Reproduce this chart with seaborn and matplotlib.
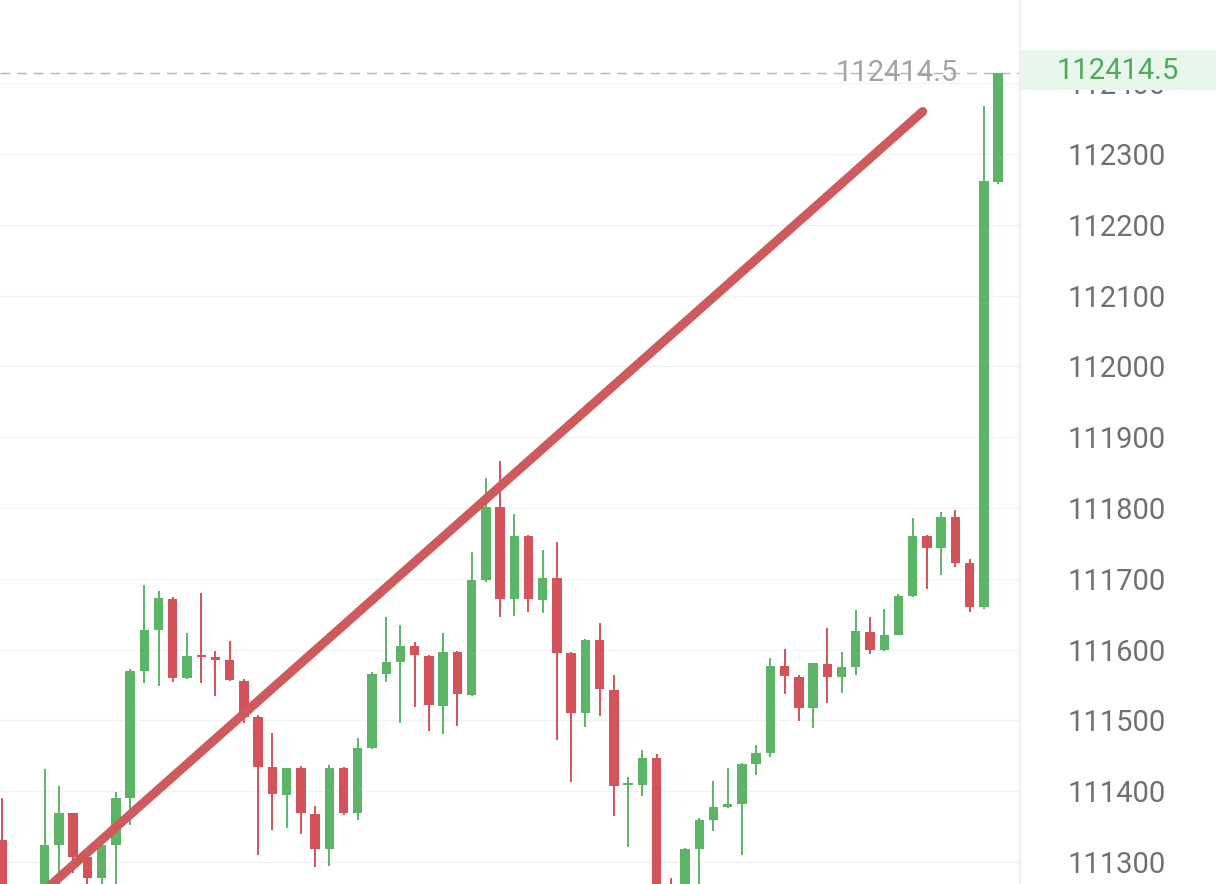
import pandas as pd
import matplotlib.pyplot as plt
from matplotlib.patches import Rectangle
import seaborn as sns

# OHLC values (one candle per slot, left to right)
opens = [111331, 111250, 111228, 111245, 111324, 111369, 111307, 111277, 111324, 111390,
         111570, 111628, 111672, 111560, 111591, 111590, 111585, 111556, 111505, 111434,
         111395, 111433, 111368, 111318, 111433, 111369, 111461, 111566, 111582, 111605,
         111591, 111521, 111597, 111536, 111698, 111801, 111671, 111760, 111670, 111701,
         111595, 111510, 111614, 111543, 111409, 111409, 111447, 111232, 111215, 111318,
         111359, 111378, 111382, 111438, 111454, 111577, 111562, 111518, 111580, 111562,
         111576, 111625, 111599, 111621, 111676, 111760, 111744, 111787, 111722, 111660,
         112260]
highs = [111390, 111262, 111258, 111431, 111407, 111369, 111310, 111330, 111399, 111572,
         111691, 111683, 111674, 111623, 111680, 111598, 111612, 111558, 111507, 111482,
         111433, 111435, 111379, 111437, 111434, 111475, 111568, 111646, 111635, 111611,
         111593, 111623, 111598, 111738, 111842, 111866, 111791, 111762, 111741, 111752,
         111597, 111615, 111638, 111564, 111420, 111458, 111453, 111277, 111320, 111362,
         111414, 111433, 111440, 111465, 111588, 111601, 111564, 111581, 111630, 111597,
         111656, 111646, 111657, 111679, 111786, 111762, 111794, 111797, 111728, 112368,
         112414.5]
lows = [111240, 111215, 111210, 111225, 111260, 111285, 111255, 111262, 111265, 111352,
        111553, 111549, 111554, 111558, 111553, 111535, 111555, 111496, 111310, 111345,
        111348, 111340, 111293, 111294, 111366, 111359, 111460, 111554, 111496, 111519,
        111485, 111481, 111492, 111535, 111695, 111646, 111647, 111653, 111652, 111472,
        111413, 111491, 111506, 111365, 111321, 111393, 111225, 111190, 111205, 111250,
        111344, 111376, 111310, 111423, 111449, 111537, 111499, 111489, 111525, 111539,
        111564, 111594, 111598, 111620, 111675, 111686, 111705, 111717, 111653, 111658,
        112258]
closes = [111250, 111228, 111245, 111324, 111369, 111307, 111277, 111324, 111390, 111570,
          111628, 111673, 111560, 111591, 111590, 111585, 111557, 111505, 111434, 111396,
          111433, 111369, 111318, 111433, 111369, 111461, 111566, 111582, 111605, 111592,
          111522, 111597, 111537, 111698, 111801, 111671, 111760, 111671, 111701, 111595,
          111510, 111614, 111544, 111407, 111410, 111447, 111232, 111215, 111318, 111359,
          111378, 111382, 111438, 111454, 111577, 111563, 111518, 111581, 111562, 111576,
          111626, 111599, 111621, 111676, 111760, 111744, 111787, 111722, 111660, 112262,
          112414.5]

price_ticks = [111300, 111400, 111500, 111600, 111700, 111800, 111900, 112000, 112100, 112200, 112300, 112400]
last_price = 112414.5
last_label = '112414.5'

# trend line drawn on the chart (two anchor points)
trend_idx = [3.0, 64.7]
trend_price = [111260, 112360]

GREEN = '#5cb466'
RED = '#d4535a'
LINE_RED = '#cf5a5d'

df = pd.DataFrame({'open': opens, 'high': highs, 'low': lows, 'close': closes})
df['idx'] = range(len(df))
df['color'] = [GREEN if c >= o else RED for o, c in zip(df['open'], df['close'])]
df['bottom'] = df[['open', 'close']].min(axis=1)
df['height'] = (df['close'] - df['open']).abs().clip(lower=2.5)

sns.set_theme(style='white')
plt.rcParams['font.family'] = ['Roboto', 'DejaVu Sans']

fig = plt.figure(figsize=(12.16, 8.84), dpi=100)
ax = fig.add_axes([0, 0, 1020 / 1216, 1])

# candles: wicks then bodies
ax.vlines(df['idx'], df['low'], df['high'], colors=df['color'], linewidth=1.4, zorder=2)
ax.bar(df['idx'], df['height'], bottom=df['bottom'], width=0.66,
       color=df['color'], linewidth=0, zorder=3)

# trend line
trend = pd.DataFrame({'idx': trend_idx, 'price': trend_price})
sns.lineplot(data=trend, x='idx', y='price', ax=ax, color=LINE_RED,
             linewidth=6.5, solid_capstyle='round', zorder=4)

# last price dashed line + label
ax.axhline(last_price, color='#b4b4b4', linewidth=1, linestyle=(0, (7, 5)), zorder=1)
ax.text(0.939, last_price, last_label, transform=ax.get_yaxis_transform(),
        ha='right', va='center', fontsize=21, color='#a3a3a3', zorder=5)

ax.set_xlim(-0.14, 71.54)
ax.set_ylim(111269, 112517.5)
ax.set_xticks([])
ax.set_yticks(price_ticks)
ax.set_yticklabels([str(t) for t in price_ticks])
ax.yaxis.tick_right()
ax.tick_params(axis='y', length=0, pad=34.5, labelsize=21, labelcolor='#707070')
ax.set_xlabel('')
ax.set_ylabel('')
ax.grid(axis='y', color='#f3f3f3', linewidth=1)
ax.set_axisbelow(True)
for side in ['top', 'left', 'bottom']:
    ax.spines[side].set_visible(False)
ax.spines['right'].set_color('#eeeeee')
ax.spines['right'].set_linewidth(1.2)

# price tag on the right axis
fig.patches.append(Rectangle((1021 / 1216, 1 - 90 / 884), 195 / 1216, 40 / 884,
                             transform=fig.transFigure, facecolor='#e9f6ec',
                             edgecolor='none', zorder=1))
fig.text(1118 / 1216, 1 - 71 / 884, last_label, ha='center', va='center',
         fontsize=21, color='#52a85d', zorder=3)

fig.savefig('out.png', dpi=100)
